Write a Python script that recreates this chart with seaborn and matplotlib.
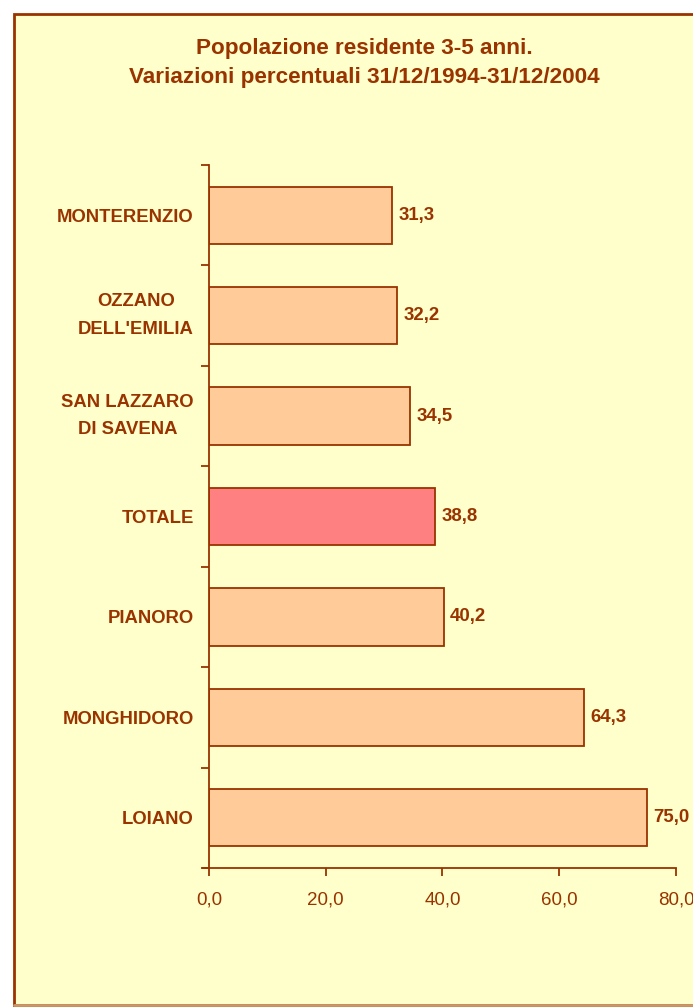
import matplotlib
matplotlib.use("Agg")
import matplotlib.pyplot as plt
import seaborn as sns
from matplotlib.patches import Rectangle
from matplotlib.lines import Line2D

# data
comuni = ["MONTERENZIO", "OZZANO\nDELL'EMILIA", "SAN LAZZARO\nDI SAVENA",
          "TOTALE", "PIANORO", "MONGHIDORO", "LOIANO"]
variazioni = [31.3, 32.2, 34.5, 38.8, 40.2, 64.3, 75.0]
x_ticks = [0, 20, 40, 60, 80]

brown = "#993300"
bar_col = "#FFCC99"
tot_col = "#FF8080"
bg = "#FFFFCC"
colori = {c: (tot_col if c == "TOTALE" else bar_col) for c in comuni}

sns.set_style("white")
plt.rcParams['font.family'] = ['Liberation Sans', 'DejaVu Sans']

fig = plt.figure(figsize=(6.93, 10.07), dpi=100)
fig.patch.set_facecolor("white")

# chart area frame
frame = Rectangle((14 / 693, 2 / 1007), 1.0, 1 - 16 / 1007,
                  transform=fig.transFigure, facecolor=bg,
                  edgecolor=brown, linewidth=2, zorder=-10)
fig.add_artist(frame)
fig.add_artist(Line2D([14 / 693, 1.0], [2 / 1007, 2 / 1007],
                      transform=fig.transFigure, color="#CC9966",
                      linewidth=2, zorder=-9))

ax = fig.add_axes([209 / 693, 1 - 868 / 1007, 467 / 693, 703 / 1007])
ax.set_facecolor("none")

sns.barplot(x=variazioni, y=comuni, hue=comuni, palette=colori, orient="h",
            width=0.57, edgecolor=brown, linewidth=1.3, legend=False,
            saturation=1, ax=ax)

for i, v in enumerate(variazioni):
    ax.text(v + 1.1, i, f"{v:.1f}".replace(".", ","), va="center", ha="left",
            color=brown, fontsize=13.4, fontweight="bold")

ax.set_xlim(0, 80)
ax.set_ylim(len(comuni) - 0.5, -0.5)
ax.set_xticks(x_ticks)
ax.set_xticklabels([f"{t:.1f}".replace(".", ",") for t in x_ticks],
                   color=brown, fontsize=13.5)
ax.set_yticks(range(len(comuni)))
ax.set_yticklabels(comuni, color=brown, fontsize=13.3, fontweight="bold",
                   multialignment="center", linespacing=1.8)
for lab in ax.get_yticklabels():
    if "\n" in lab.get_text():
        lab.set_va("center")
ax.set_yticks([i - 0.5 for i in range(len(comuni) + 1)], minor=True)
ax.tick_params(axis="y", which="major", length=0, pad=11)
ax.tick_params(axis="y", which="minor", length=6, width=1.3, color=brown,
               direction="out", left=True)
ax.tick_params(axis="x", length=6, width=1.3, color=brown, direction="out",
               bottom=True, pad=11)
ax.set_xlabel("")
ax.set_ylabel("")

for s in ["top", "right"]:
    ax.spines[s].set_visible(False)
for s in ["left", "bottom"]:
    ax.spines[s].set_color(brown)
    ax.spines[s].set_linewidth(1.3)
ax.spines["bottom"].set_bounds(-1.0, 80)

fig.text(364 / 693, 1 - 63 / 1007,
         "Popolazione residente 3-5 anni.\nVariazioni percentuali 31/12/1994-31/12/2004",
         ha="center", va="center", color=brown, fontsize=16.2,
         fontweight="bold", linespacing=1.5)

fig.savefig("out.png", dpi=100, facecolor=fig.get_facecolor())
